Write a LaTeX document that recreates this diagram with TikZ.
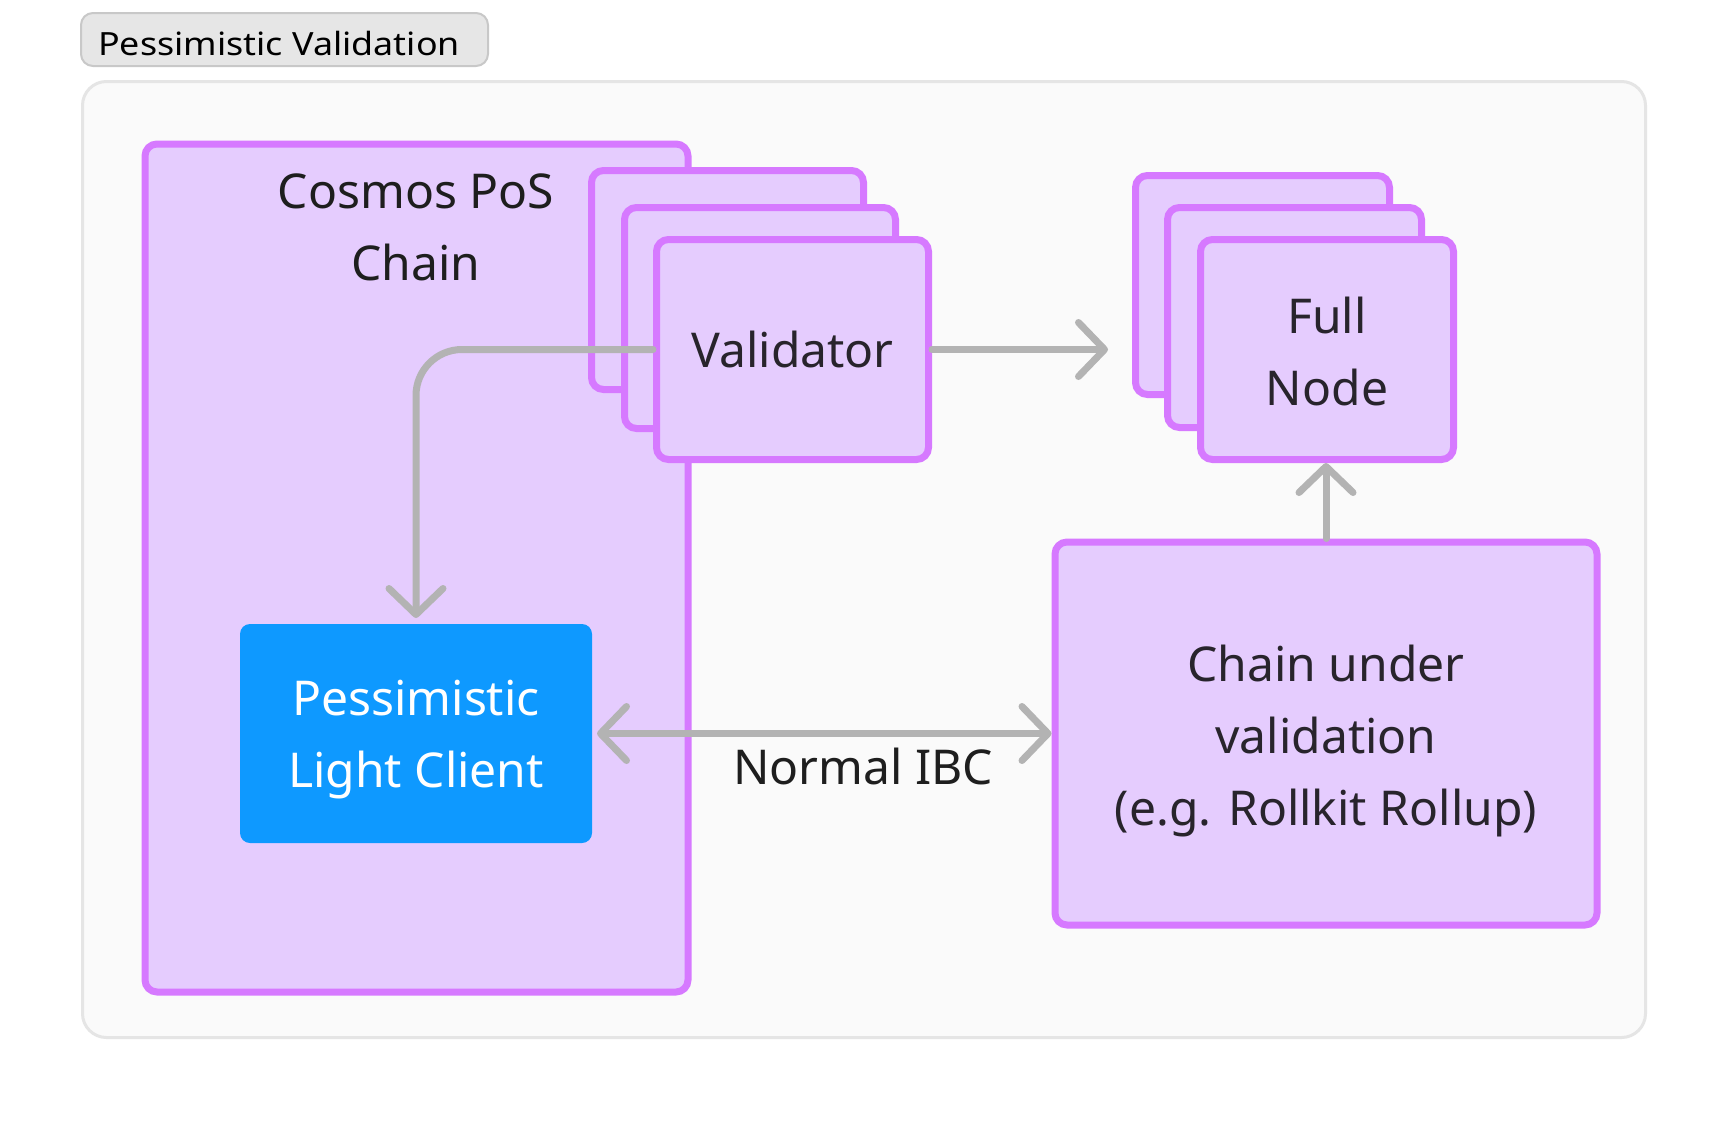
\documentclass[tikz,border=0pt]{standalone}
\usepackage{fontspec}
\setmainfont{Noto Sans}
\newfontfamily\titlefont[FakeStretch=1.12]{Noto Sans}
\usetikzlibrary{arrows.meta,calc}
\definecolor{pborder}{RGB}{214,121,255}
\definecolor{pfill}{RGB}{229,204,254}
\definecolor{lcblue}{RGB}{14,153,255}
\definecolor{arrgrey}{RGB}{179,179,179}
\definecolor{framefill}{RGB}{250,250,250}
\definecolor{frameline}{RGB}{229,229,229}
\definecolor{tabfill}{RGB}{230,230,230}
\definecolor{tabline}{RGB}{200,200,200}
\definecolor{txtdark}{RGB}{40,36,44}
\definecolor{txtblack}{RGB}{30,30,30}
\tikzset{
  pbox/.style={draw=pborder, fill=pfill, line width=7pt, rounded corners=12pt, inner sep=0pt,
    text=txtdark, align=center, font=\fontsize{48}{72}\selectfont},
  bigtxt/.style={inner sep=0pt, align=center, font=\fontsize{48}{72}\selectfont},
  arr/.style={draw=arrgrey, line width=7pt, line cap=round, line join=round,
    -{Straight Barb[length=26pt 0, width=54pt 0, line cap=round, line join=round]}},
  darr/.style={draw=arrgrey, line width=7pt, line cap=round, line join=round,
    {Straight Barb[length=26pt 0, width=54pt 0, line cap=round, line join=round]}-{Straight Barb[length=26pt 0, width=54pt 0, line cap=round, line join=round]}},
}
\begin{document}
\begin{tikzpicture}[x=1pt, y=-1pt]
\useasboundingbox[fill=white] (0,0) rectangle (1728,1120);
% outer frame and tab
\node[draw=frameline, fill=framefill, line width=3pt, rounded corners=24pt,
  minimum width=1563pt, minimum height=956pt, inner sep=0pt] (frame) at (864,559.5) {};
\node[draw=tabline, fill=tabfill, line width=2pt, rounded corners=12pt,
  minimum width=407pt, minimum height=53pt, inner sep=0pt] (tab) at (284.5,39.5) {};
\node[anchor=base west, inner sep=0pt, text=black, font=\titlefont\fontsize{32}{38}\selectfont] (tabtxt) at (98,55) {Pessimistic Validation};
% Cosmos chain
\node[pbox, minimum width=543pt, minimum height=848pt] (cosmos) at (416.5,568) {};
\node[bigtxt, text=txtblack] (cosmoslbl) at (416,227.5) {Cosmos PoS\\Chain};
% validator stack
\node[pbox, minimum width=272pt, minimum height=219pt] (valback) at (727.5,280) {};
\node[pbox, minimum width=271pt, minimum height=221pt] (valmid) at (760,318) {};
\node[pbox, minimum width=272pt, minimum height=220pt] (valfront) at (792.5,349.5) {Validator};
% full node stack
\node[pbox, minimum width=254pt, minimum height=219pt] (fnback) at (1262.5,285) {};
\node[pbox, minimum width=254pt, minimum height=220pt] (fnmid) at (1294.5,317.5) {};
\node[pbox, minimum width=253pt, minimum height=220pt] (fnfront) at (1327,349.5) {};
\node[bigtxt, text=txtdark] (fntxt) at ([yshift=-2pt]fnfront.center) {Full\\Node};
% chain under validation
\node[pbox, minimum width=542pt, minimum height=383pt] (chain) at (1326,733.5) {};
\node[bigtxt, text=txtdark] (chaintxt) at ([yshift=-7.5pt]chain.center) {Chain under\\validation\\(e.g. Rollkit Rollup)};
% light client
\node[fill=lcblue, draw=none, rounded corners=10pt, minimum width=352pt, minimum height=219pt,
  inner sep=0pt, outer sep=0pt] (lc) at (416,733.5) {};
\node[bigtxt, text=white] (lctxt) at ([yshift=-6.5pt]lc.center) {Pessimistic\\Light Client};
% connectors
\draw[arr, rounded corners=46pt] (valfront.west) -| ([yshift=6pt]lc.north);
\draw[arr, shorten >=24pt] (valfront.east) -- (valfront.east -| fnback.west);
\draw[arr] (chain.north) -- (chain.north |- fnfront.south);
\draw[darr, shorten <=5pt] (lc.east) -- (chain.west);
\node[bigtxt, anchor=base, text=txtblack] (ibclbl) at (863,784) {Normal IBC};
\end{tikzpicture}
\end{document}
